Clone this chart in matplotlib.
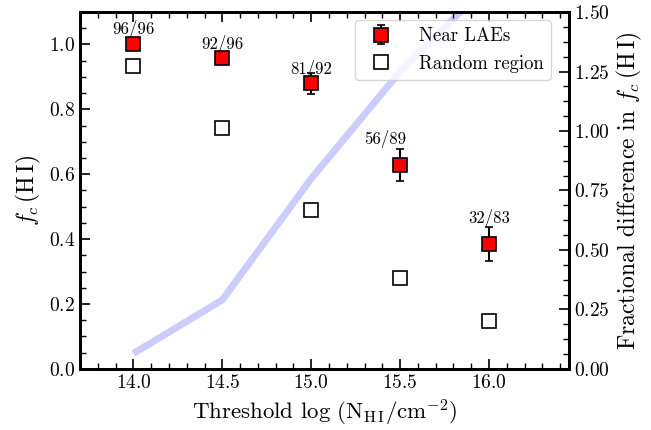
import numpy as np
import matplotlib
matplotlib.use("Agg")
import matplotlib.pyplot as plt
from matplotlib.ticker import MultipleLocator

# LaTeX-like look without a TeX install
plt.rcParams['font.family'] = 'serif'
plt.rcParams['font.serif'] = ['cmr10', 'DejaVu Serif']
plt.rcParams['mathtext.fontset'] = 'cm'
plt.rcParams['axes.formatter.use_mathtext'] = True

# Data
thresh = [14.0, 14.5, 15.0, 15.5, 16.0]
fc_near = [1.0, 0.958, 0.880, 0.629, 0.386]
fc_near_err = [0.0, 0.010, 0.033, 0.050, 0.052]
fc_rand = [0.935, 0.742, 0.489, 0.280, 0.148]
frac_diff = [0.065, 0.29, 0.80, 1.25, 1.62]
counts = ['96/96', '92/96', '81/92', '56/89', '32/83']

# label offsets in points (dx, dy)
label_off = [(0, 5), (0, 4), (0, 4), (-11, 12), (0, 12)]

fig = plt.figure(figsize=(6.51, 4.30), dpi=100)
ax = fig.add_axes([0.123, 0.142, 0.751, 0.830])
ax2 = ax.twinx()

# fractional difference on the right axis, drawn behind the points
ax2.plot(thresh, frac_diff, color='b', alpha=0.2, lw=5, solid_capstyle='butt')
ax2.set_ylim(0, 1.5)
ax2.set_ylabel(r'Fractional difference in $f_c\,(\mathrm{H\,I})$', fontsize=17)

ax.set_zorder(ax2.get_zorder() + 1)
ax.patch.set_visible(False)

near = ax.errorbar(thresh, fc_near, yerr=fc_near_err, fmt='s', color='red', mec='k',
                   mew=1.2, ms=10, ecolor='k', elinewidth=1.5, capsize=3, capthick=1.5,
                   label='Near LAEs')
rand, = ax.plot(thresh, fc_rand, 's', mfc='white', mec='k', mew=1.2, ms=10,
                ls='none', label='Random region')

for x, y, txt, (dx, dy) in zip(thresh, fc_near, counts, label_off):
    ax.annotate(txt, (x, y), xytext=(dx, dy), textcoords='offset points',
                ha='center', va='bottom', fontsize=12)

ax.set_xlim(13.7, 16.45)
ax.set_ylim(0, 1.1)
ax.set_xlabel(r'Threshold $\log\,(\mathrm{N_{H\,I}/cm^{-2}})$', fontsize=16.5)
ax.set_ylabel(r'$f_c\,(\mathrm{H\,I})$', fontsize=17)

ax.xaxis.set_major_locator(MultipleLocator(0.5))
ax.xaxis.set_minor_locator(MultipleLocator(0.1))
ax.yaxis.set_major_locator(MultipleLocator(0.2))
ax.yaxis.set_minor_locator(MultipleLocator(0.05))
ax2.yaxis.set_major_locator(MultipleLocator(0.25))
ax2.yaxis.set_minor_locator(MultipleLocator(0.0625))

ax.tick_params(which='both', direction='in', top=True, right=False, labelsize=14)
ax.tick_params(which='major', length=7, width=1.2)
ax.tick_params(which='minor', length=4, width=1)
ax2.tick_params(which='both', direction='in', labelsize=14)
ax2.tick_params(which='major', length=7, width=1.2)
ax2.tick_params(which='minor', length=4, width=1)

for a in (ax, ax2):
    for s in a.spines.values():
        s.set_linewidth(2)

ax.legend([near, rand], ['Near LAEs', 'Random region'], loc='upper right',
          bbox_to_anchor=(0.963, 0.978), borderaxespad=0, fontsize=13.5,
          framealpha=0.8, handletextpad=1.0, borderpad=0.4, numpoints=1)

fig.savefig('out.png', dpi=100)
